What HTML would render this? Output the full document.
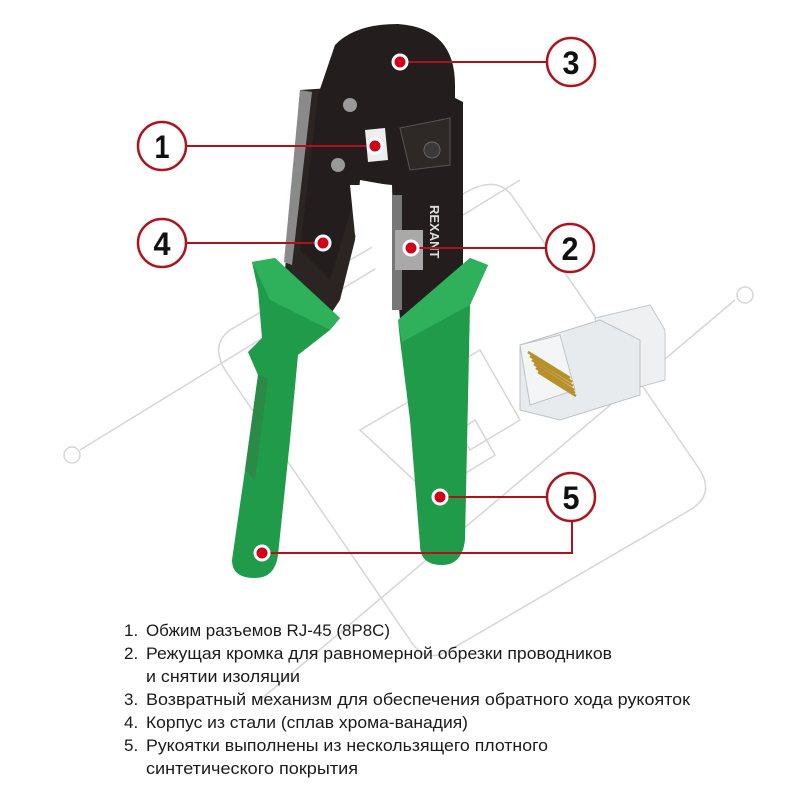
<!DOCTYPE html>
<html><head><meta charset="utf-8"><style>
html,body{margin:0;padding:0;background:#fff;width:800px;height:800px;overflow:hidden}
svg{display:block}
</style></head><body>
<svg width="800" height="800" viewBox="0 0 800 800" xmlns="http://www.w3.org/2000/svg">
<!-- watermark -->
<g fill="none" stroke="#d6d6d6" stroke-width="1.5">
<path d="M230 330 L470 190 Q500 175 515 200 L700 470 Q715 495 690 510 L450 650 Q425 665 410 640 L225 370 Q210 345 230 330 Z"/>
<path d="M80 450 L520 180"/><circle cx="72" cy="455" r="8"/>
<path d="M260 700 L735 300"/><circle cx="745" cy="295" r="8"/>
<path d="M360 430 L420 395 L445 440 L475 420 L495 455 L430 495 Z"/>
<path d="M430 380 L480 350 L520 420 L470 450 Z"/>
</g>
<!-- RJ45 connector -->
<g>
<path d="M595 318 L650 305 L665 330 L665 380 L610 395 Z" fill="#eef0f2" stroke="#c5c9cc"/>
<path d="M520 345 L600 320 L640 340 L640 395 L560 420 L520 410 Z" fill="#e8ebee" stroke="#bcc1c5"/>
<path d="M520 345 L560 335 L575 390 L530 405 Z" fill="#f4f5f6" stroke="#c0c4c8"/>
<g stroke="#b8902a" stroke-width="2.5">
<line x1="528" y1="352" x2="570" y2="378"/><line x1="530" y1="356" x2="572" y2="382"/>
<line x1="532" y1="360" x2="573" y2="386"/><line x1="534" y1="364" x2="574" y2="390"/>
<line x1="536" y1="368" x2="575" y2="393"/><line x1="538" y1="372" x2="576" y2="396"/>
</g>
</g>
<!-- left body (black) -->
<path d="M300 90 L330 88 L360 180 L355 240 L340 300 L320 330 L285 270 Z" fill="#2a2422"/>
<path d="M300 90 L312 92 L292 265 L284 262 Z" fill="#8a8a8a"/>
<!-- head -->
<path d="M318 95 L335 45 Q355 24 398 24 Q455 28 455 85 L455 98 L463 102 L463 300 L420 330 L400 320 L392 220 L388 185 L360 180 L330 280 L300 250 Z" fill="#231e1d"/>
<path d="M362 182 L392 185 L395 300 L380 300 L368 220 Z" fill="#fff"/>
<path d="M392 195 L402 195 L402 310 L392 310 Z" fill="#777"/>
<rect x="395" y="230" width="28" height="40" fill="#a9a9a9"/>
<path d="M365 130 L385 128 L388 160 L368 162 Z" fill="#eee"/>
<path d="M400 128 L450 118 L450 165 L410 170 Z" fill="#2e2826" stroke="#555"/>
<circle cx="432" cy="150" r="8" fill="#3a3a3a" stroke="#666"/>
<circle cx="350" cy="105" r="7" fill="#999"/><circle cx="338" cy="165" r="7" fill="#999"/>
<path d="M350 185 L368 185 L372 230 L355 235 Z" fill="#fff"/>
<text x="430" y="205" transform="rotate(90 430 205)" font-family="Liberation Sans,sans-serif" font-weight="bold" font-size="13" fill="#ddd">REXANT</text>
<!-- left green handle -->
<path d="M252 262 L275 258 L340 318 L330 330 L298 355 L290 440 L278 555 Q275 578 255 578 Q232 578 232 560 L245 470 L258 375 L248 352 L262 338 L258 290 Z" fill="#1f9b49"/>
<path d="M252 262 L275 258 L340 318 L330 330 L270 300 Z" fill="#2fb05a"/>
<path d="M245 470 L258 375 L268 378 L255 480 Z" fill="#2a8a48"/>
<!-- right green handle -->
<path d="M398 320 L470 258 L488 265 L470 305 L465 540 Q462 565 442 565 Q420 565 420 545 L410 420 L400 340 Z" fill="#1f9b49"/>
<path d="M398 320 L470 258 L488 265 L470 305 L402 342 Z" fill="#2fb05a"/>
<!-- connectors -->
<g stroke="#b0121b" stroke-width="2" fill="none">
<line x1="400" y1="62" x2="547" y2="62"/>
<line x1="186" y1="146" x2="376" y2="146"/>
<line x1="186" y1="243" x2="323" y2="243"/>
<line x1="411" y1="248" x2="546" y2="248"/>
<line x1="440" y1="497" x2="547" y2="497"/>
<path d="M572 521 L572 553 L262 553"/>
</g>
<g fill="#fff" stroke="#b0121b" stroke-width="2.5">
<circle cx="571" cy="62" r="24"/><circle cx="162" cy="146" r="24"/>
<circle cx="162" cy="243" r="24"/><circle cx="570" cy="248" r="24"/>
<circle cx="571" cy="497" r="24"/>
</g>
<g font-family="Liberation Sans,sans-serif" font-weight="bold" font-size="32" text-anchor="middle" fill="#111">
<text x="571" y="74" textLength="17" lengthAdjust="spacingAndGlyphs">3</text>
<text x="162" y="158" textLength="15" lengthAdjust="spacingAndGlyphs">1</text>
<text x="162" y="255" textLength="17" lengthAdjust="spacingAndGlyphs">4</text>
<text x="570" y="260" textLength="17" lengthAdjust="spacingAndGlyphs">2</text>
<text x="571" y="509" textLength="17" lengthAdjust="spacingAndGlyphs">5</text>
</g>
<g fill="#d0021b" stroke="#fff" stroke-width="3">
<circle cx="400" cy="62" r="7"/><circle cx="375" cy="146" r="7"/>
<circle cx="323" cy="243" r="7"/><circle cx="411" cy="248" r="7"/>
<circle cx="440" cy="497" r="7"/><circle cx="262" cy="553" r="7"/>
</g>
<!-- list -->
<g font-family="Liberation Sans,sans-serif" font-size="17" fill="#1a1a1a">
<text x="124" y="636">1.</text><text x="146" y="636" textLength="244" lengthAdjust="spacingAndGlyphs">Обжим разъемов RJ-45 (8P8C)</text>
<text x="124" y="659">2.</text><text x="146" y="659" textLength="466" lengthAdjust="spacingAndGlyphs">Режущая кромка для равномерной обрезки проводников</text>
<text x="146" y="682" textLength="154" lengthAdjust="spacingAndGlyphs">и снятии изоляции</text>
<text x="124" y="705">3.</text><text x="146" y="705" textLength="544" lengthAdjust="spacingAndGlyphs">Возвратный механизм для обеспечения обратного хода рукояток</text>
<text x="124" y="728">4.</text><text x="146" y="728" textLength="322" lengthAdjust="spacingAndGlyphs">Корпус из стали (сплав хрома-ванадия)</text>
<text x="124" y="751">5.</text><text x="146" y="751" textLength="402" lengthAdjust="spacingAndGlyphs">Рукоятки выполнены из нескользящего плотного</text>
<text x="146" y="774" textLength="212" lengthAdjust="spacingAndGlyphs">синтетического покрытия</text>
</g>
</svg>
</body></html>
